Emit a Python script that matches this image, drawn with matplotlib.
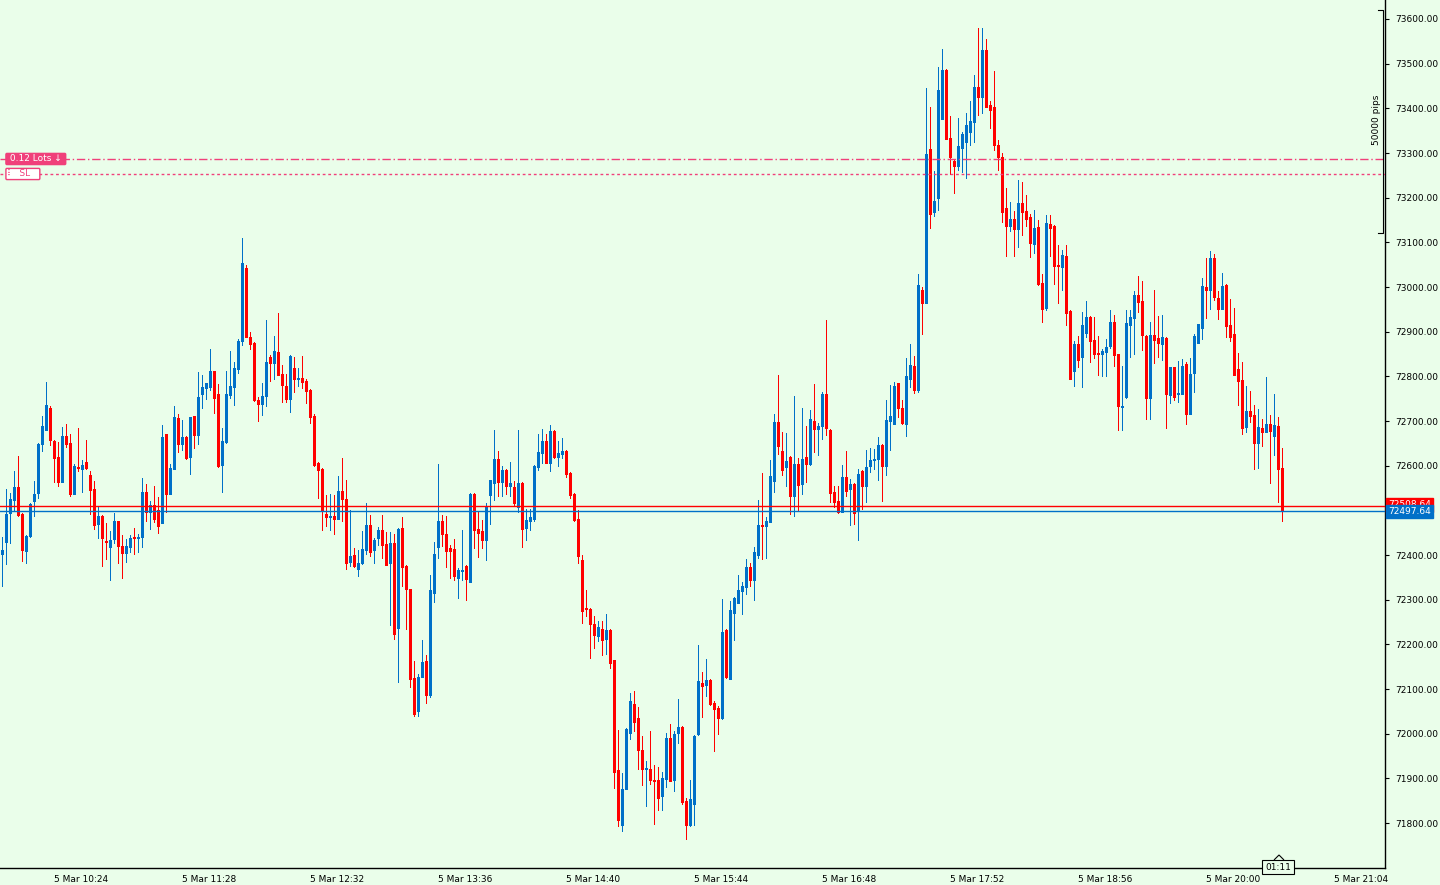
import numpy as np
import matplotlib
matplotlib.use("Agg")
import matplotlib.pyplot as plt
from matplotlib.patches import Polygon

# 2-minute candles (price points)
opens = [72403, 72430, 72495, 72523, 72552, 72492, 72410, 72443, 72521, 72538,
         72648, 72680, 72730, 72655, 72619, 72564, 72666, 72651, 72537, 72597,
         72593, 72608, 72579, 72548, 72469, 72487, 72431, 72419, 72436, 72476,
         72421, 72405, 72419, 72438, 72439, 72441, 72541, 72497, 72511, 72500,
         72472, 72671, 72537, 72593, 72707, 72649, 72664, 72620, 72711, 72669,
         72761, 72775, 72776, 72812, 72760, 72602, 72654, 72758, 72777, 72816,
         72878, 73043, 72888, 72875, 72748, 72739, 72756, 72843, 72829, 72855,
         72805, 72778, 72749, 72819, 72793, 72796, 72790, 72769, 72711, 72607,
         72593, 72492, 72484, 72487, 72481, 72543, 72525, 72384, 72400, 72369,
         72381, 72412, 72467, 72412, 72437, 72456, 72425, 72383, 72427, 72237,
         72460, 72375, 72324, 72125, 72051, 72127, 72163, 72087, 72316, 72419,
         72476, 72447, 72416, 72413, 72349, 72365, 72375, 72340, 72537, 72458,
         72454, 72434, 72534, 72562, 72615, 72564, 72590, 72555, 72552, 72508,
         72561, 72461, 72477, 72481, 72597, 72629, 72655, 72606, 72678, 72620,
         72627, 72633, 72584, 72536, 72481, 72389, 72279, 72279, 72245, 72219,
         72234, 72212, 72233, 72165, 71919, 71796, 71877, 72002, 72066, 72035,
         71963, 71920, 71921, 71897, 71896, 71861, 71899, 71990, 71897, 72002,
         72015, 71849, 71796, 71843, 72000, 72113, 72109, 72120, 72069, 72057,
         72034, 72232, 72123, 72271, 72293, 72320, 72329, 72373, 72343, 72401,
         72467, 72466, 72475, 72566, 72698, 72633, 72598, 72619, 72533, 72604,
         72560, 72619, 72604, 72700, 72683, 72689, 72760, 72680, 72542, 72522,
         72497, 72575, 72548, 72560, 72501, 72589, 72555, 72600, 72612, 72614,
         72646, 72600, 72701, 72694, 72784, 72729, 72694, 72795, 72823, 72770,
         72993, 72965, 73309, 73169, 73200, 73377, 73486, 73334, 73283, 73270,
         73312, 73325, 73346, 73370, 73448, 73425, 73531, 73408, 73403, 73319,
         73290, 73177, 73137, 73152, 73130, 73188, 73170, 73157, 73097, 73134,
         73009, 72953, 73141, 73137, 73049, 73045, 73069, 72946, 72813, 72873,
         72844, 72896, 72933, 72881, 72852, 72851, 72855, 72868, 72922, 72850,
         72732, 72753, 72915, 72931, 72982, 72969, 72890, 72751, 72892, 72886,
         72872, 72886, 72759, 72821, 72760, 72761, 72828, 72716, 72808, 72875,
         72909, 73000, 72993, 73065, 72975, 72951, 73004, 72915, 72895, 72816,
         72792, 72687, 72722, 72713, 72651, 72685, 72676, 72693, 72667, 72689,
         72595]
highs = [72441, 72548, 72538, 72588, 72621, 72495, 72445, 72516, 72566, 72650,
         72712, 72787, 72733, 72657, 72653, 72686, 72693, 72671, 72604, 72684,
         72613, 72657, 72588, 72566, 72507, 72489, 72472, 72454, 72493, 72477,
         72445, 72436, 72445, 72460, 72448, 72572, 72559, 72521, 72555, 72530,
         72691, 72672, 72604, 72734, 72716, 72702, 72666, 72710, 72712, 72810,
         72803, 72785, 72861, 72813, 72783, 72685, 72812, 72857, 72832, 72884,
         73110, 73050, 72899, 72876, 72754, 72785, 72926, 72848, 72890, 72942,
         72825, 72805, 72847, 72843, 72819, 72846, 72794, 72771, 72715, 72609,
         72594, 72534, 72537, 72534, 72577, 72617, 72568, 72501, 72416, 72411,
         72454, 72516, 72489, 72439, 72463, 72489, 72451, 72451, 72447, 72460,
         72485, 72377, 72325, 72163, 72134, 72210, 72177, 72356, 72430, 72604,
         72489, 72487, 72422, 72436, 72371, 72456, 72377, 72538, 72538, 72496,
         72478, 72516, 72569, 72680, 72633, 72599, 72592, 72608, 72566, 72680,
         72563, 72504, 72504, 72601, 72671, 72682, 72671, 72691, 72679, 72655,
         72662, 72634, 72585, 72538, 72501, 72400, 72322, 72281, 72263, 72252,
         72252, 72268, 72234, 72166, 72008, 71912, 72012, 72091, 72095, 72060,
         71995, 71939, 72006, 71930, 71925, 71914, 72002, 72022, 72006, 72078,
         72017, 71856, 71896, 71996, 72199, 72138, 72167, 72122, 72073, 72062,
         72302, 72234, 72297, 72305, 72355, 72340, 72391, 72382, 72418, 72523,
         72584, 72485, 72613, 72716, 72803, 72675, 72673, 72621, 72756, 72617,
         72729, 72689, 72725, 72783, 72695, 72765, 72926, 72681, 72555, 72555,
         72602, 72633, 72571, 72561, 72593, 72590, 72636, 72640, 72638, 72665,
         72649, 72746, 72781, 72788, 72785, 72747, 72840, 72873, 72846, 73029,
         73000, 73446, 73403, 73260, 73492, 73533, 73488, 73383, 73285, 73379,
         73347, 73390, 73417, 73475, 73580, 73580, 73555, 73417, 73483, 73330,
         73300, 73222, 73190, 73170, 73240, 73235, 73206, 73163, 73172, 73150,
         73029, 73161, 73161, 73138, 73094, 73083, 73094, 72949, 72880, 72891,
         72944, 72969, 72934, 72933, 72891, 72861, 72884, 72948, 72937, 72851,
         72823, 72948, 72948, 72991, 73025, 73013, 72892, 72922, 72993, 72935,
         72937, 72888, 72822, 72822, 72834, 72839, 72832, 72841, 72895, 72918,
         73020, 73065, 73081, 73074, 72991, 73031, 73007, 72973, 72953, 72852,
         72832, 72778, 72767, 72736, 72727, 72704, 72798, 72713, 72760, 72709,
         72640]
lows = [72330, 72380, 72427, 72501, 72487, 72386, 72383, 72441, 72488, 72528,
        72633, 72680, 72646, 72563, 72555, 72563, 72642, 72532, 72536, 72589,
        72541, 72593, 72492, 72458, 72439, 72375, 72391, 72344, 72426, 72383,
        72349, 72385, 72407, 72403, 72407, 72419, 72477, 72458, 72475, 72450,
        72471, 72497, 72537, 72593, 72631, 72636, 72614, 72582, 72640, 72649,
        72730, 72750, 72770, 72719, 72598, 72540, 72650, 72752, 72736, 72808,
        72870, 72887, 72861, 72745, 72701, 72714, 72734, 72790, 72793, 72802,
        72743, 72743, 72721, 72766, 72779, 72775, 72741, 72696, 72600, 72528,
        72455, 72465, 72457, 72448, 72480, 72476, 72369, 72375, 72374, 72354,
        72380, 72403, 72398, 72383, 72422, 72394, 72378, 72244, 72213, 72116,
        72331, 72235, 72105, 72040, 72040, 72127, 72069, 72083, 72295, 72394,
        72421, 72374, 72349, 72345, 72304, 72345, 72300, 72340, 72416, 72396,
        72416, 72389, 72470, 72524, 72533, 72533, 72537, 72533, 72513, 72497,
        72419, 72434, 72456, 72477, 72590, 72606, 72605, 72588, 72617, 72600,
        72618, 72575, 72528, 72477, 72383, 72248, 72264, 72170, 72192, 72208,
        72177, 72179, 72148, 71879, 71794, 71781, 71876, 71989, 72007, 71922,
        71886, 71837, 71888, 71798, 71830, 71830, 71881, 71894, 71872, 71978,
        71843, 71765, 71794, 71796, 71996, 72038, 72084, 72065, 71962, 71999,
        72033, 72125, 72123, 72210, 72293, 72269, 72313, 72331, 72300, 72394,
        72392, 72394, 72474, 72542, 72627, 72580, 72555, 72492, 72488, 72501,
        72537, 72564, 72602, 72631, 72625, 72660, 72669, 72519, 72508, 72495,
        72496, 72531, 72468, 72470, 72434, 72504, 72519, 72586, 72593, 72569,
        72522, 72580, 72636, 72693, 72708, 72694, 72667, 72777, 72763, 72766,
        72895, 72964, 73131, 73160, 73173, 73376, 73331, 73252, 73211, 73261,
        73258, 73245, 73319, 73325, 73386, 73390, 73403, 73357, 73307, 73262,
        73146, 73069, 73126, 73069, 73090, 73116, 73137, 73067, 73076, 73004,
        72922, 72949, 73069, 73007, 72964, 72993, 72915, 72793, 72779, 72822,
        72777, 72889, 72831, 72842, 72804, 72801, 72801, 72863, 72824, 72680,
        72680, 72751, 72843, 72850, 72944, 72859, 72705, 72705, 72830, 72843,
        72837, 72685, 72741, 72748, 72743, 72760, 72694, 72716, 72766, 72875,
        72884, 72931, 72951, 72971, 72929, 72951, 72889, 72880, 72803, 72735,
        72672, 72676, 72698, 72593, 72595, 72645, 72675, 72562, 72625, 72519,
        72477]
closes = [72411, 72492, 72525, 72553, 72489, 72411, 72442, 72514, 72536, 72648,
          72689, 72736, 72657, 72618, 72564, 72666, 72649, 72536, 72599, 72595,
          72601, 72595, 72545, 72468, 72487, 72439, 72430, 72433, 72476, 72421,
          72405, 72420, 72437, 72437, 72440, 72541, 72497, 72511, 72481, 72464,
          72664, 72537, 72595, 72709, 72649, 72664, 72617, 72709, 72669, 72754,
          72776, 72784, 72812, 72752, 72600, 72655, 72760, 72778, 72819, 72879,
          73054, 72889, 72873, 72746, 72739, 72755, 72832, 72830, 72857, 72804,
          72781, 72749, 72845, 72793, 72794, 72788, 72768, 72710, 72602, 72591,
          72501, 72484, 72485, 72481, 72543, 72525, 72383, 72398, 72376, 72382,
          72413, 72467, 72407, 72434, 72456, 72423, 72378, 72427, 72224, 72458,
          72374, 72325, 72123, 72045, 72127, 72161, 72087, 72322, 72403, 72476,
          72446, 72410, 72410, 72354, 72366, 72366, 72347, 72537, 72457, 72450,
          72434, 72507, 72568, 72615, 72564, 72590, 72555, 72561, 72516, 72561,
          72458, 72478, 72485, 72599, 72631, 72655, 72606, 72678, 72620, 72628,
          72633, 72582, 72535, 72479, 72398, 72275, 72278, 72246, 72222, 72239,
          72210, 72232, 72159, 71915, 71807, 71876, 72010, 72073, 72027, 71964,
          71922, 71922, 71897, 71895, 71857, 71901, 71990, 71895, 71999, 72015,
          71848, 71796, 71854, 71995, 72118, 72107, 72120, 72067, 72056, 72034,
          72228, 72127, 72277, 72304, 72322, 72331, 72373, 72343, 72407, 72467,
          72466, 72476, 72577, 72698, 72645, 72591, 72610, 72533, 72604, 72557,
          72615, 72604, 72704, 72683, 72689, 72760, 72685, 72539, 72519, 72497,
          72575, 72544, 72560, 72495, 72582, 72555, 72598, 72613, 72613, 72646,
          72600, 72702, 72711, 72779, 72728, 72696, 72801, 72825, 72770, 73004,
          72965, 73298, 73164, 73193, 73441, 73486, 73332, 73292, 73272, 73316,
          73343, 73363, 73372, 73448, 73425, 73531, 73404, 73397, 73319, 73290,
          73168, 73137, 73152, 73130, 73188, 73168, 73152, 73098, 73132, 73007,
          72951, 73143, 73132, 73047, 73047, 73072, 72942, 72794, 72873, 72837,
          72915, 72933, 72878, 72849, 72851, 72857, 72866, 72922, 72848, 72734,
          72734, 72919, 72933, 72982, 72966, 72892, 72751, 72892, 72881, 72875,
          72888, 72760, 72821, 72754, 72761, 72823, 72716, 72805, 72890, 72917,
          73002, 72993, 73065, 72978, 72951, 73002, 72913, 72889, 72804, 72790,
          72685, 72722, 72712, 72651, 72687, 72676, 72693, 72678, 72691, 72593,
          72497.64]

price_ticks = list(range(71800, 73700, 100))
time_labels = ["5 Mar 10:24", "5 Mar 11:28", "5 Mar 12:32", "5 Mar 13:36",
               "5 Mar 14:40", "5 Mar 15:44", "5 Mar 16:48", "5 Mar 17:52",
               "5 Mar 18:56", "5 Mar 20:00", "5 Mar 21:04"]
bid = 72497.64
ask = 72508.64
order_price = 73286.6
sl_price = 73253.0

BG = "#EAFEEA"
BULL = "#0070C8"
BEAR = "#FF0000"
PINK = "#F0407A"
W, H = 1440, 885
PX = 2.2388  # price points per pixel

plt.rcParams['font.family'] = ['DejaVu Sans']
fig = plt.figure(figsize=(W / 100, H / 100), dpi=100, facecolor=BG)
ax = fig.add_axes([0, 17 / H, 1385 / W, 868 / H], facecolor=BG)

o = np.array(opens, float)
h = np.array(highs, float)
l = np.array(lows, float)
c = np.array(closes, float)
idx = np.arange(len(o))
up = c >= o
cols = np.where(up, BULL, BEAR)

# wicks (1 px) then bodies (3 px), no smoothing so they look like the terminal's pixels
ax.vlines(idx, l, h, colors=cols, linewidth=0.72, antialiased=False, zorder=2)
body_lo = np.minimum(o, c)
body_hi = np.maximum(np.maximum(o, c), body_lo + PX)
ax.vlines(idx, body_lo, body_hi, colors=cols, linewidth=2.16, antialiased=False,
          capstyle="butt", zorder=3)

ax.set_xlim(-0.375, 345.875)
ax.set_ylim(73600 - 849 * PX, 73600 + 19 * PX)

# bid / ask lines
ax.axhline(ask, color=BEAR, lw=1.0, zorder=4)
ax.axhline(bid, color=BULL, lw=1.0, zorder=4)
# order line and stop loss
ax.axhline(order_price, color=PINK, lw=1.0, dashes=(6, 2, 1, 2), zorder=4)
ax.axhline(sl_price, color=PINK, lw=1.0, dashes=(2, 2), zorder=4)

# axes look
for s in ["top", "left"]:
    ax.spines[s].set_visible(False)
for s in ["right", "bottom"]:
    ax.spines[s].set_color("black")
    ax.spines[s].set_linewidth(1.0)
ax.yaxis.tick_right()
ax.set_yticks(price_ticks)
# the 72500 label sits under the price tags in the terminal
ax.set_yticklabels(["" if p == 72500 else f"{p:.2f}" for p in price_ticks], fontsize=6.5)
ax.tick_params(axis="y", length=3, width=0.8, pad=4, colors="black")
xt = [20 + 32 * i for i in range(len(time_labels))]
ax.set_xticks(xt)
ax.set_xticklabels(time_labels, fontsize=6.5)
ax.tick_params(axis="x", length=0, pad=5, colors="black")

# price tags on the right (ask tag mostly hidden under the bid tag)
ytr = ax.get_yaxis_transform()
ax.text(1.0 + 3 / 1385, ask + 1.5 * PX, f"{ask:.2f}", transform=ytr,
        fontsize=6.5, color="white", va="center", ha="left",
        bbox=dict(boxstyle="square,pad=0.25", fc=BEAR, ec=BEAR), clip_on=False, zorder=5)
ax.text(1.0 + 3 / 1385, bid, f"{bid:.2f}", transform=ytr,
        fontsize=6.5, color="white", va="center", ha="left",
        bbox=dict(boxstyle="square,pad=0.25", fc=BULL, ec=BULL), clip_on=False, zorder=6)

# order labels on the left
ax.text(7 / 1385, order_price, " 0.12 Lots \u2193 ", transform=ytr,
        fontsize=6.5, color="white", va="center", ha="left",
        bbox=dict(boxstyle="round,pad=0.12", fc=PINK, ec=PINK), zorder=6)
ax.text(7 / 1385, sl_price, "\u2807  SL   ", transform=ytr,
        fontsize=6.5, color=PINK, va="center", ha="left",
        bbox=dict(boxstyle="round,pad=0.12", fc="white", ec=PINK), zorder=6)

# ruler bracket on the right
ytop = 73600 + 9 * PX
ybot = 73600 - 214 * PX
xr = 345.875 - 0.5
ax.plot([xr - 1.2, xr, xr, xr - 1.2], [ytop, ytop, ybot, ybot], color="black",
        lw=0.8, clip_on=False, zorder=5)
ax.text(xr - 1.6, 73600 - 101 * PX, "50000 pips", rotation=90,
        fontsize=6.5, va="center", ha="center")

# countdown box at the bottom with its little notch
fig.text(1278 / W, 1 - 867 / H, "01:11", fontsize=6.5, ha="center", va="center",
         bbox=dict(boxstyle="square,pad=0.3", fc=BG, ec="black", lw=0.8), zorder=5)
notch = Polygon([[1274 / W, 1 - 860 / H], [1279 / W, 1 - 855 / H], [1284 / W, 1 - 860 / H]],
                closed=False, transform=fig.transFigure, fill=False, ec="black", lw=0.8)
fig.add_artist(notch)

fig.savefig("out.png", dpi=100, facecolor=BG)
